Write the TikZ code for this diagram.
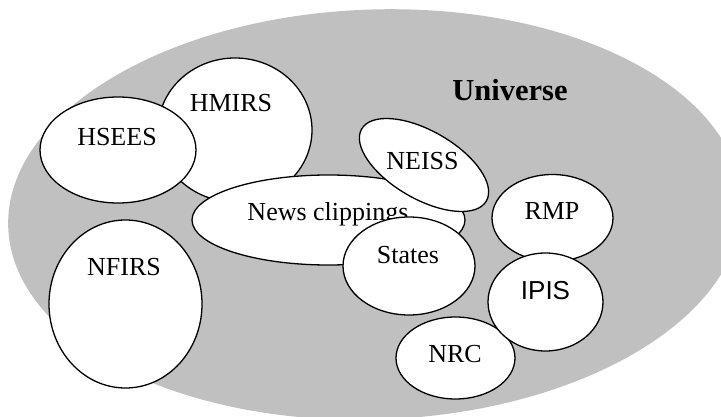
\documentclass[tikz,border=0pt]{standalone}
\usepackage{fontspec}
\setmainfont{Liberation Serif}
\newfontfamily\sansfont{Liberation Sans}
\usetikzlibrary{shapes.geometric}
\definecolor{silver}{RGB}{192,192,192}
\tikzset{
  set/.style={ellipse, draw=black, line width=1.3pt, fill=white, inner sep=0pt},
  lbl/.style={anchor=base, inner sep=0pt, font=\fontsize{26}{30}\selectfont},
}
\begin{document}
\begin{tikzpicture}[x=1pt, y=-1pt]
  \useasboundingbox (0,0) rectangle (721,417);
  \clip (0,0) rectangle (721,417);
  % the universe of all records
  \node[ellipse, fill=silver, minimum width=734pt, minimum height=410pt, rotate=2] (universe) at (375,214.5) {};
  \node[lbl, font=\fontsize{30.5}{34}\selectfont\bfseries] (universeT) at (510,100.7) {Universe};
  % data sources
  \node[set, minimum width=154pt, minimum height=144pt] (hmirs) at (235,130) {};
  \node[lbl] (hmirsT) at (231,111.7) {HMIRS};
  \node[set, minimum width=156pt, minimum height=106pt] (hsees) at (118,150) {};
  \node[lbl] (hseesT) at (117,145.7) {HSEES};
  \node[set, minimum width=153pt, minimum height=168pt] (nfirs) at (125.5,304) {};
  \node[lbl] (nfirsT) at (124,276) {NFIRS};
  \node[set, minimum width=273pt, minimum height=90pt] (news) at (328.5,220) {};
  \node[lbl] (newsT) at (328,220.7) {News clippings};
  \node[set, minimum width=144pt, minimum height=68pt, rotate=-30] (neiss) at (424,165) {};
  \node[lbl] (neissT) at (422.5,170) {NEISS};
  \node[set, minimum width=132pt, minimum height=98pt] (states) at (409,266) {};
  \node[lbl] (statesT) at (408,264) {States};
  \node[set, minimum width=121pt, minimum height=87pt] (rmp) at (552.5,218) {};
  \node[lbl] (rmpT) at (552,220) {RMP};
  \node[set, minimum width=119pt, minimum height=82pt] (nrc) at (455.5,358) {};
  \node[lbl] (nrcT) at (455,362) {NRC};
  \node[set, minimum width=115pt, minimum height=98pt] (ipis) at (545.5,302) {};
  \node[lbl, font=\fontsize{26}{30}\selectfont\sansfont] (ipisT) at (545.5,299) {IPIS};
\end{tikzpicture}
\end{document}
